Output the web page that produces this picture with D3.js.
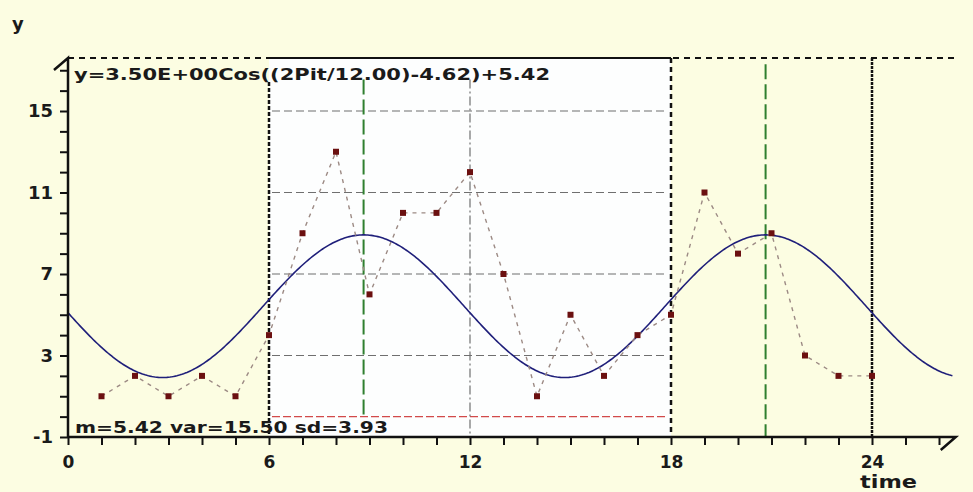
<!DOCTYPE html>
<html>
<head>
<meta charset="utf-8">
<script src="https://cdn.jsdelivr.net/npm/d3@7"></script>
<style>
  body { margin: 0; background: #fcfde3; }
  svg { display: block; }
  text { font-family: "DejaVu Sans", Verdana, sans-serif; font-weight: bold; fill: #1a1a1a; }
</style>
</head>
<body>
<svg width="973" height="492"></svg>
<script>
// observed data (hours)
var times = [1, 2, 3, 4, 5, 6, 7, 8, 9, 10, 11, 12, 13, 14, 15, 16, 17, 18, 19, 20, 21, 22, 23, 24];
var values = [1, 2, 1, 2, 1, 4, 9, 13, 6, 10, 10, 12, 7, 1, 5, 2, 4, 5, 11, 8, 9, 3, 2, 2];

// fitted cosinor parameters (from the equation shown on the chart)
var amplitude = 3.5;
var period = 12;
var acrophase = 4.62;
var mesor = 5.42;

var xTickLabels = [0, 6, 12, 18, 24];
var yTickLabels = [-1, 3, 7, 11, 15];
var gridValues = [3, 7, 11, 15];
var frameTimes = [6, 18, 24];
var equationText = "y=3.50E+00Cos((2Pit/12.00)-4.62)+5.42";
var statsText = "m=5.42 var=15.50 sd=3.93";

var svg = d3.select("svg");
var width = +svg.attr("width");
var height = +svg.attr("height");

var xMax = 26.5, yMax = 17.6;

var x = d3.scaleLinear().domain([0, 24]).range([68, 872]);
var y = d3.scaleLinear().domain([-1, 15]).range([437, 111]);

var peakTime = acrophase * period / (2 * Math.PI);
var peakTimes = [peakTime, peakTime + period];

// background
svg.append("rect").attr("width", width).attr("height", height).attr("fill", "#fcfde2");

// white panel between t=6 and t=18
svg.append("rect")
  .attr("x", x(6)).attr("y", y(yMax))
  .attr("width", x(18) - x(6)).attr("height", y(-1) - y(yMax))
  .attr("fill", "#fdfefe");

// grey dashed grid inside panel
svg.selectAll(".hgrid").data(gridValues).enter().append("line")
  .attr("class", "hgrid")
  .attr("x1", x(6) + 3).attr("x2", x(18) - 3)
  .attr("y1", function (d) { return y(d); }).attr("y2", function (d) { return y(d); })
  .attr("stroke", "#6f6f6f").attr("stroke-width", 1.2).attr("stroke-dasharray", "8,4");

// red zero line
svg.append("line")
  .attr("x1", x(6) + 3).attr("x2", x(18) - 3)
  .attr("y1", y(0)).attr("y2", y(0))
  .attr("stroke", "#d24a4a").attr("stroke-width", 1.4).attr("stroke-dasharray", "8,3");

// grey dash-dot line at t=12
svg.append("line")
  .attr("x1", x(12)).attr("x2", x(12))
  .attr("y1", y(16.55)).attr("y2", y(-1))
  .attr("stroke", "#707070").attr("stroke-width", 1.2).attr("stroke-dasharray", "9,3,2,3");

// green acrophase lines
svg.append("line")
  .attr("x1", x(peakTimes[0])).attr("x2", x(peakTimes[0]))
  .attr("y1", y(16.55)).attr("y2", y(0))
  .attr("stroke", "#2f7f2f").attr("stroke-width", 2).attr("stroke-dasharray", "15,5");
svg.append("line")
  .attr("x1", x(peakTimes[1])).attr("x2", x(peakTimes[1]))
  .attr("y1", y(17.3)).attr("y2", y(-1))
  .attr("stroke", "#2f7f2f").attr("stroke-width", 2).attr("stroke-dasharray", "15,5");

// black dotted frame verticals
var frameDash = ["4,2", "5,4", "3,1"];
var frameTop = [16.42, yMax, yMax];
svg.selectAll(".vframe").data(frameTimes).enter().append("line")
  .attr("class", "vframe")
  .attr("x1", function (d) { return x(d); }).attr("x2", function (d) { return x(d); })
  .attr("y1", function (d, i) { return y(frameTop[i]); }).attr("y2", y(-1))
  .attr("stroke", "#111").attr("stroke-width", 2.5)
  .attr("stroke-dasharray", function (d, i) { return frameDash[i]; });

// top frame line
svg.append("line")
  .attr("x1", x(0)).attr("x2", x(xMax))
  .attr("y1", y(yMax)).attr("y2", y(yMax))
  .attr("stroke", "#111").attr("stroke-width", 2).attr("stroke-dasharray", "6,5");
svg.append("line")
  .attr("x1", x(6)).attr("x2", x(18))
  .attr("y1", y(yMax)).attr("y2", y(yMax))
  .attr("stroke", "#111").attr("stroke-width", 2);

// fitted cosine curve
var curveTimes = d3.range(0, 26.41, 0.05);
var cosLine = d3.line()
  .x(function (t) { return x(t); })
  .y(function (t) { return y(amplitude * Math.cos(2 * Math.PI * t / period - acrophase) + mesor); });
svg.append("path")
  .attr("d", cosLine(curveTimes))
  .attr("fill", "none").attr("stroke", "#1f1f7a").attr("stroke-width", 1.6);

// observed series
var obs = times.map(function (t, i) { return { t: t, v: values[i] }; });
var dataLine = d3.line()
  .x(function (d) { return x(d.t); })
  .y(function (d) { return y(d.v); });
svg.append("path")
  .attr("d", dataLine(obs))
  .attr("fill", "none").attr("stroke", "#9c8a84").attr("stroke-width", 1.4)
  .attr("stroke-dasharray", "4,5");
svg.selectAll(".pt").data(obs).enter().append("rect")
  .attr("class", "pt")
  .attr("x", function (d) { return x(d.t) - 3; })
  .attr("y", function (d) { return y(d.v) - 3; })
  .attr("width", 6).attr("height", 6)
  .attr("fill", "#6b1010");

// axes
var xAxis = d3.axisBottom(x)
  .tickValues(d3.range(0, 27))
  .tickSize(8).tickPadding(11)
  .tickFormat(function (d) { return xTickLabels.indexOf(d) >= 0 ? d : ""; });
var xAxisGroup = svg.append("g")
  .attr("transform", "translate(0," + y(-1) + ")")
  .call(xAxis);
xAxisGroup.select(".domain").remove();
xAxisGroup.selectAll("line").attr("stroke", "#111").attr("stroke-width", 2);
xAxisGroup.selectAll("text").style("font-size", "17px").attr("fill", "#1a1a1a");

var yAxis = d3.axisLeft(y)
  .tickValues(d3.range(-1, 18))
  .tickSize(8).tickPadding(7)
  .tickFormat(function (d) { return yTickLabels.indexOf(d) >= 0 ? d : ""; });
var yAxisGroup = svg.append("g")
  .attr("transform", "translate(" + x(0) + ",0)")
  .call(yAxis);
yAxisGroup.select(".domain").remove();
yAxisGroup.selectAll("line").attr("stroke", "#111").attr("stroke-width", 2);
yAxisGroup.selectAll("text").style("font-size", "18px").attr("fill", "#1a1a1a");

// axis lines with arrow strokes
svg.append("path")
  .attr("d", "M" + x(0) + "," + y(-1) + "H" + x(xMax) + "l-15,13")
  .attr("fill", "none").attr("stroke", "#111").attr("stroke-width", 2.5);
svg.append("path")
  .attr("d", "M" + x(0) + "," + y(-1) + "V" + y(yMax) + "l-14,12")
  .attr("fill", "none").attr("stroke", "#111").attr("stroke-width", 2.5);

// labels
svg.append("text").text("y")
  .attr("x", 12).attr("y", 30).style("font-size", "18px");
svg.append("text").text("time")
  .attr("x", 860).attr("y", 488).style("font-size", "18px")
  .attr("textLength", 57).attr("lengthAdjust", "spacingAndGlyphs");

svg.append("text").text(equationText)
  .attr("x", 74).attr("y", 80).style("font-size", "15px")
  .attr("textLength", 476).attr("lengthAdjust", "spacingAndGlyphs");
svg.append("text").text(statsText)
  .attr("x", 75).attr("y", 433).style("font-size", "15px")
  .attr("textLength", 313).attr("lengthAdjust", "spacingAndGlyphs");
</script>
</body>
</html>
